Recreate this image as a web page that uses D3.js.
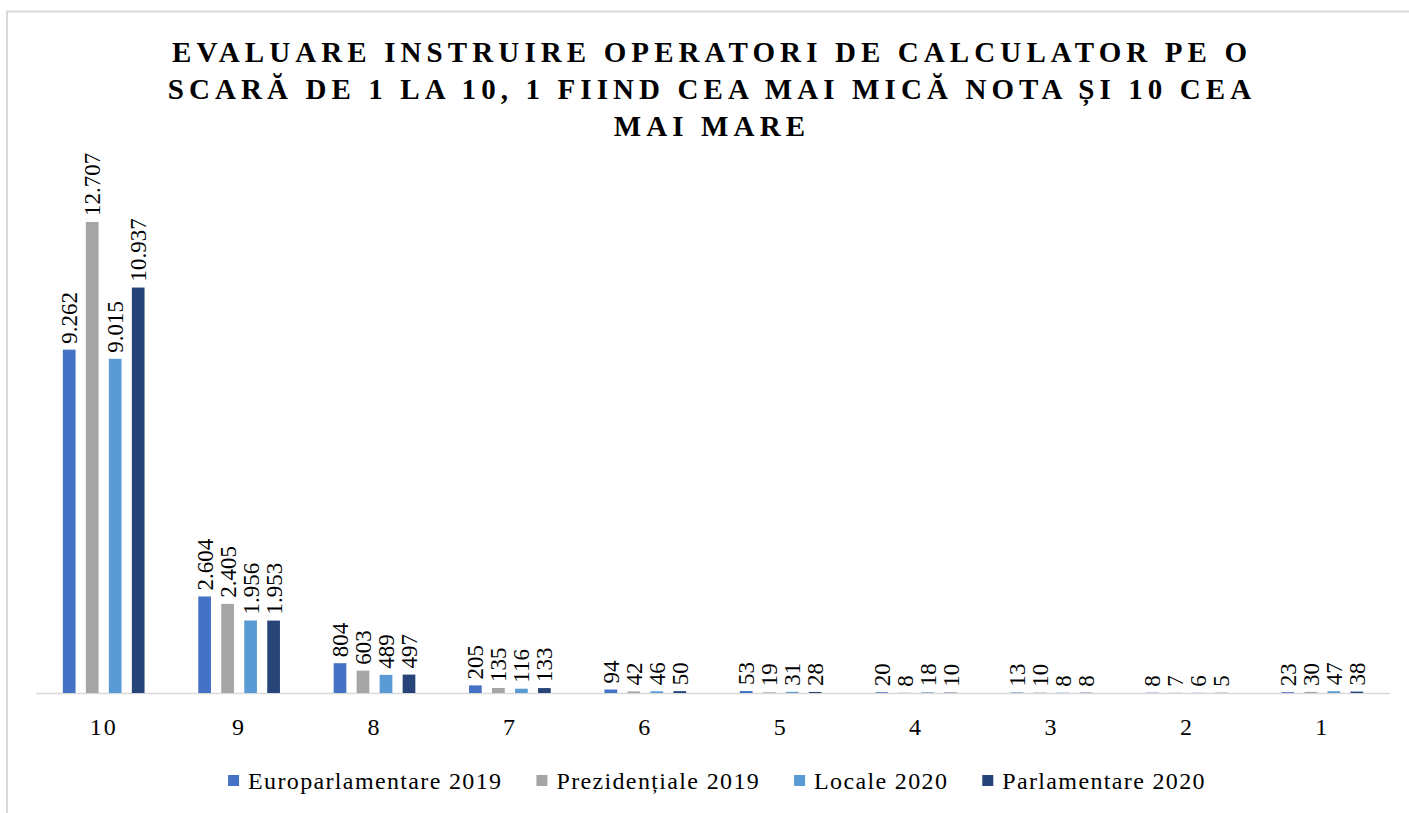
<!DOCTYPE html>
<html>
<head>
<meta charset="utf-8">
<script src="https://cdn.jsdelivr.net/npm/d3@7"></script>
<style>
  body { margin: 0; background: #fff; }
</style>
</head>
<body>
<div id="chart"></div>
<script>
const categories = ['10', '9', '8', '7', '6', '5', '4', '3', '2', '1'];
const seriesNames = ['Europarlamentare 2019', 'Prezidențiale 2019', 'Locale 2020', 'Parlamentare 2020'];
const europarlamentare2019 = [9262, 2604, 804, 205, 94, 53, 20, 13, 8, 23];
const prezidentiale2019 = [12707, 2405, 603, 135, 42, 19, 8, 10, 7, 30];
const locale2020 = [9015, 1956, 489, 116, 46, 31, 18, 8, 6, 47];
const parlamentare2020 = [10937, 1953, 497, 133, 50, 28, 10, 8, 5, 38];
const colors = ['#4472c4', '#a5a5a5', '#5b9bd5', '#264478'];
const titleLines = [
  'EVALUARE INSTRUIRE OPERATORI DE CALCULATOR PE O',
  'SCARĂ DE 1 LA 10, 1 FIIND CEA MAI MICĂ NOTA ȘI 10 CEA',
  'MAI MARE'
];

const width = 1409, height = 813;
const margin = {top: 174, right: 19, bottom: 120, left: 36};
const font = "'Liberation Serif', 'Times New Roman', 'DejaVu Serif', serif";
const series = [europarlamentare2019, prezidentiale2019, locale2020, parlamentare2020];

let svg = d3.select('#chart').append('svg')
  .attr('width', width)
  .attr('height', height)
  .style('font-family', font);

// outer frame (only top and left edges visible)
svg.append('path')
  .attr('d', `M7,${height} L7,11.5 L${width},11.5`)
  .attr('fill', 'none')
  .attr('stroke', '#d9d9d9')
  .attr('stroke-width', 2);

// title
let title = svg.append('g').selectAll('text')
  .data(titleLines)
  .enter().append('text')
  .attr('x', 712)
  .attr('y', (d, i) => 62 + i * 37)
  .attr('text-anchor', 'middle')
  .style('font-family', font)
  .attr('font-size', 29)
  .attr('font-weight', 'bold')
  .text((d) => d);
// spread letters so the first line spans the same width as the original
let natural = title.node().getComputedTextLength();
let spacing = Math.max(0, (1075 - natural) / (titleLines[0].length - 1));
title.attr('letter-spacing', spacing);

let x = d3.scaleBand()
  .domain(categories)
  .range([margin.left, width - margin.right])
  .padding(0);

let y = d3.scaleLinear()
  .domain([0, 14000])
  .range([height - margin.bottom, margin.top]);

let barStep = 23, barWidth = 12.7;
let inner = d3.scaleBand()
  .domain(d3.range(series.length))
  .range([-barStep * series.length / 2, barStep * series.length / 2]);

let fmt = d3.formatLocale({decimal: ',', thousands: '.', grouping: [3]}).format(',');

let g = svg.append('g');

// axis line
g.append('line')
  .attr('x1', margin.left)
  .attr('x2', width - margin.right)
  .attr('y1', y(0) + 0.5)
  .attr('y2', y(0) + 0.5)
  .attr('stroke', '#d9d9d9')
  .attr('stroke-width', 1.5);

let groups = g.selectAll('.cat')
  .data(categories)
  .enter().append('g')
  .attr('class', 'cat')
  .attr('transform', (d) => `translate(${x(d) + x.bandwidth() / 2},0)`);

groups.each(function(cat, ci) {
  let grp = d3.select(this);
  series.forEach((s, si) => {
    let cx = inner(si) + barStep / 2;
    let v = s[ci];
    grp.append('rect')
      .attr('x', cx - barWidth / 2)
      .attr('y', y(v))
      .attr('width', barWidth)
      .attr('height', y(0) - y(v))
      .attr('fill', colors[si]);
    grp.append('text')
      .attr('transform', `translate(${cx + 8},${y(v) - 6}) rotate(-90)`)
      .style('font-family', font)
      .attr('font-size', 23)
      .text(fmt(v));
  });
});

// category labels
g.selectAll('.tick-label')
  .data(categories)
  .enter().append('text')
  .attr('class', 'tick-label')
  .attr('x', (d) => x(d) + x.bandwidth() / 2)
  .attr('y', 735)
  .attr('text-anchor', 'middle')
  .style('font-family', font)
  .attr('font-size', 24)
  .attr('letter-spacing', 2)
  .text((d) => d);

// legend
let legend = svg.append('g');
let items = legend.selectAll('.item')
  .data(seriesNames)
  .enter().append('g')
  .attr('class', 'item');
items.append('rect')
  .attr('width', 11)
  .attr('height', 11)
  .attr('y', 775)
  .attr('fill', (d, i) => colors[i]);
let legendText = items.append('text')
  .attr('x', 20)
  .attr('y', 789)
  .style('font-family', font)
  .attr('font-size', 24)
  .text((d) => d);
// widen legend labels a little so the first one spans ~253px like the original
let firstLen = legendText.node().getComputedTextLength();
let lsLegend = Math.max(0, (253 - firstLen) / (seriesNames[0].length - 1));
legendText.attr('letter-spacing', lsLegend);

let gap = 34;
let offs = 0, pos = [];
items.each(function() {
  pos.push(offs);
  offs += this.getBBox().width + gap;
});
offs -= gap;
let start = 717 - offs / 2;
items.attr('transform', (d, i) => `translate(${start + pos[i]},0)`);
</script>
</body>
</html>
